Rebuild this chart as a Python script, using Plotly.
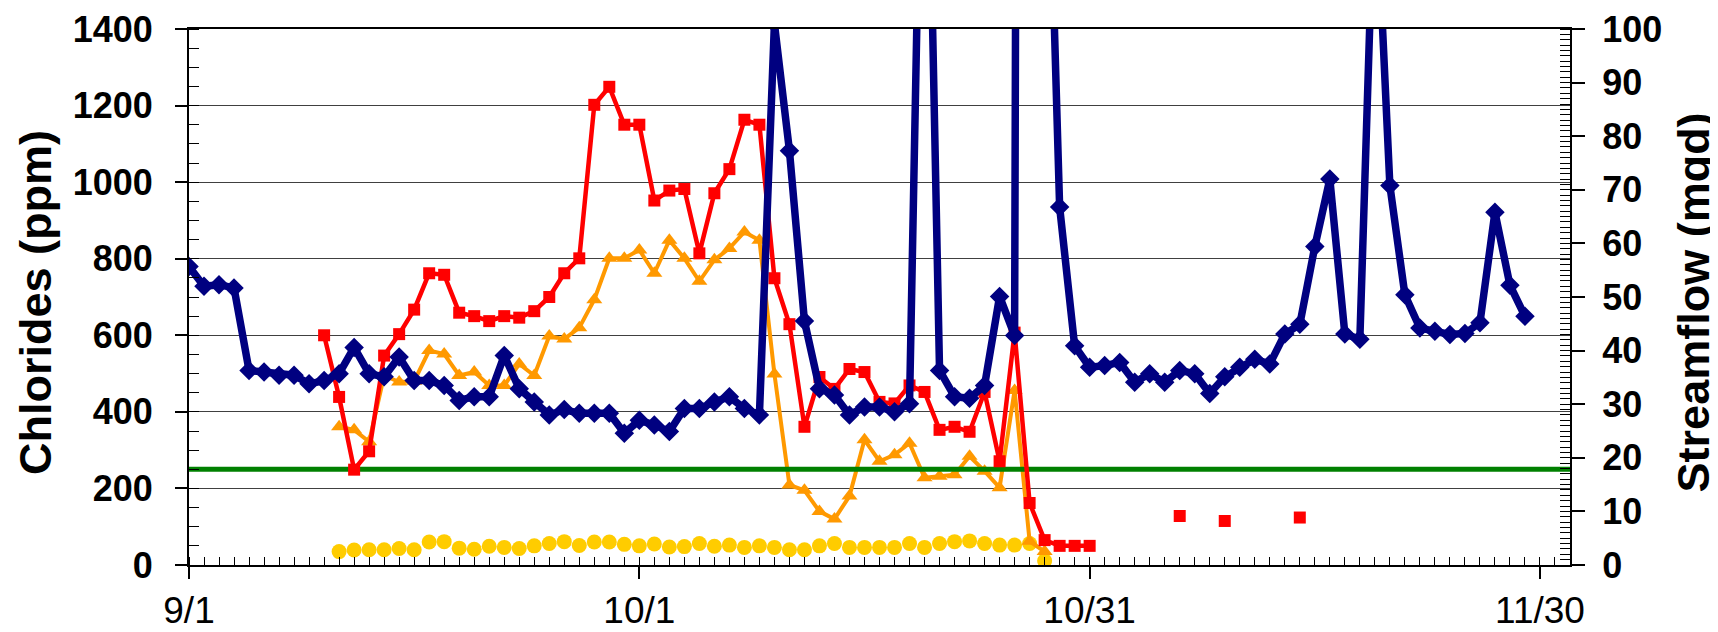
import pandas as pd
import plotly.graph_objects as go

# ---------------- data ----------------
flow_start = "2007-09-01"
# Streamflow (mgd), daily from 9/1 (right axis)
streamflow = [55.7, 52.0, 52.3, 51.7, 36.3, 36.0, 35.4, 35.4, 33.8, 34.4,
              35.7, 40.6, 35.7, 35.1, 38.8, 34.4, 34.4, 33.5, 30.7, 31.4,
              31.4, 39.1, 32.9, 30.4, 28.0, 29.0, 28.3, 28.3, 28.3, 24.6,
              27.0, 26.1, 24.9, 29.2, 29.2, 30.4, 31.4, 29.2, 28.0, 101.0,
              77.3, 45.5, 32.9, 31.7, 28.0, 29.5, 29.5, 28.6, 30.1, 175.0,
              36.3, 31.4, 31.1, 33.5, 50.1, 42.8, 1000.0, 163.0, 66.8, 40.9,
              36.9, 37.2, 37.8, 34.1, 35.7, 34.1, 36.3, 35.7, 32.0, 35.1,
              36.9, 38.4, 37.5, 43.1, 44.9, 59.4, 72.0, 43.1, 42.1, 131.0,
              70.8, 50.4, 44.2, 43.6, 43.0, 43.2, 45.2, 65.8, 52.2, 46.4]

# Chlorides (ppm), daily from 9/10 (red squares), None = no sample
red_start = "2007-09-10"
chloride_red = [600, 439, 249, 297, 547, 603, 667, 762, 758, 659,
                650, 637, 650, 646, 663, 700, 762, 801, 1202, 1249,
                1150, 1150, 952, 978, 982, 814, 971, 1034, 1163, 1150,
                749, 629, 361, 491, 460, 512, 504, 426, 422, 469,
                452, 353, 361, 348, 452, 271, 607, 162, 65, 50,
                50, 50, None, None, None, None, None, 128, None, None,
                115, None, None, None, None, 124]

# Chlorides (ppm), daily from 9/11 (orange triangles)
orange_start = "2007-09-11"
chloride_orange = [361, 353, 322, 495, 478, 480, 560, 551, 495, 504,
                   469, 469, 525, 495, 598, 590, 620, 693, 801, 801,
                   823, 762, 848, 801, 741, 797, 827, 870, 848, 499,
                   209, 195, 140, 120, 180, 327, 271, 288, 318, 228,
                   232, 236, 284, 245, 202, 456, 62, 35]

# Chlorides (ppm), daily from 9/11 (yellow circles)
yellow_start = "2007-09-11"
chloride_yellow = [35, 39, 40, 40, 43, 40, 60, 61, 44, 41,
                   49, 46, 43, 50, 56, 61, 51, 60, 60, 54,
                   50, 55, 47, 48, 56, 49, 52, 46, 50, 46,
                   40, 40, 50, 56, 46, 46, 46, 46, 56, 46,
                   56, 61, 63, 56, 52, 52, 56, 11]

# 250 ppm standard
standard_dates = ["2007-09-01", "2007-12-02"]
standard_values = [250, 250]

x_tick_dates = ["2007-09-01", "2007-10-01", "2007-10-31", "2007-11-30"]
x_tick_labels = ["9/1", "10/1", "10/31", "11/30"]

# ---------------- figure ----------------
def days(start, n):
    return pd.date_range(start, periods=n, freq="D")

FONT = "Liberation Sans, Arial, sans-serif"
TICK_SIZE = 36
TITLE_SIZE = 45
fig = go.Figure()

fig.add_trace(go.Scatter(x=days(yellow_start, len(chloride_yellow)), y=chloride_yellow,
                         mode="markers", yaxis="y",
                         marker=dict(symbol="circle", size=15, color="#FFCC00")))
fig.add_trace(go.Scatter(x=days(orange_start, len(chloride_orange)), y=chloride_orange,
                         mode="lines+markers", yaxis="y",
                         line=dict(color="#FF9900", width=4),
                         marker=dict(symbol="triangle-up", size=14, color="#FF9900")))
fig.add_trace(go.Scatter(x=standard_dates, y=standard_values, mode="lines",
                         line=dict(color="#008000", width=5), yaxis="y",
                         hoverinfo="skip"))
fig.add_trace(go.Scatter(x=days(red_start, len(chloride_red)), y=chloride_red,
                         mode="lines+markers", yaxis="y",
                         line=dict(color="#FF0000", width=4.5),
                         marker=dict(symbol="square", size=12, color="#FF0000")))
fig.add_trace(go.Scatter(x=days(flow_start, len(streamflow)), y=streamflow,
                         mode="lines+markers", yaxis="y2",
                         line=dict(color="#000080", width=7.5),
                         marker=dict(symbol="diamond", size=15, color="#000080")))

fig.update_layout(
    width=1718, height=632,
    margin=dict(l=181, r=156, t=21, b=75),
    paper_bgcolor="white", plot_bgcolor="white",
    showlegend=False,
    font=dict(family=FONT, color="black"),
    xaxis=dict(
        type="date", automargin=False,
        range=["2007-09-01", "2007-12-02"],
        tickmode="array", tickvals=x_tick_dates, ticktext=x_tick_labels,
        ticks="outside", ticklen=12, tickwidth=1.5, tickcolor="black",
        minor=dict(tickmode="linear", tick0="2007-09-01", dtick=86400000,
                   ticks="inside", ticklen=8, tickwidth=1, tickcolor="black"),
        showline=True, linecolor="black", linewidth=2, mirror=True,
        showgrid=False, zeroline=False,
        tickfont=dict(size=37, family=FONT),
        ticklabelstandoff=0,
    ),
    yaxis=dict(
        automargin=False,
        range=[0, 1400], tickmode="linear", tick0=0, dtick=200,
        ticks="outside", ticklen=12, tickwidth=1.5, tickcolor="black",
        minor=dict(dtick=50, ticks="inside", ticklen=10, tickwidth=1,
                   tickcolor="black", showgrid=False),
        showline=True, linecolor="black", linewidth=2,
        showgrid=True, gridcolor="#404040", gridwidth=1,
        zeroline=False,
        tickfont=dict(size=TICK_SIZE, family=FONT, weight="bold"),
        ticklabelstandoff=15, ticklabeloverflow="allow",
    ),
    yaxis2=dict(
        overlaying="y", side="right", automargin=False,
        range=[0, 100], tickmode="linear", tick0=0, dtick=10,
        ticks="outside", ticklen=13, tickwidth=1.5, tickcolor="black",
        minor=dict(dtick=1, ticks="inside", ticklen=10, tickwidth=1,
                   tickcolor="black", showgrid=False),
        showline=True, linecolor="black", linewidth=2,
        showgrid=False, zeroline=False,
        tickfont=dict(size=TICK_SIZE, family=FONT, weight="bold"),
        ticklabelstandoff=10, ticklabeloverflow="allow",
    ),
    annotations=[
        dict(text="Chlorides (ppm)", xref="paper", yref="paper",
             x=-0.111, y=0.49, xanchor="center", yanchor="middle",
             textangle=-90, showarrow=False,
             font=dict(size=TITLE_SIZE, family=FONT, weight="bold", color="black")),
        dict(text="Streamflow (mgd)", xref="paper", yref="paper",
             x=1.0891, y=0.49, xanchor="center", yanchor="middle",
             textangle=-90, showarrow=False,
             font=dict(size=TITLE_SIZE, family=FONT, weight="bold", color="black")),
    ],
)

fig.write_html("out.html")
